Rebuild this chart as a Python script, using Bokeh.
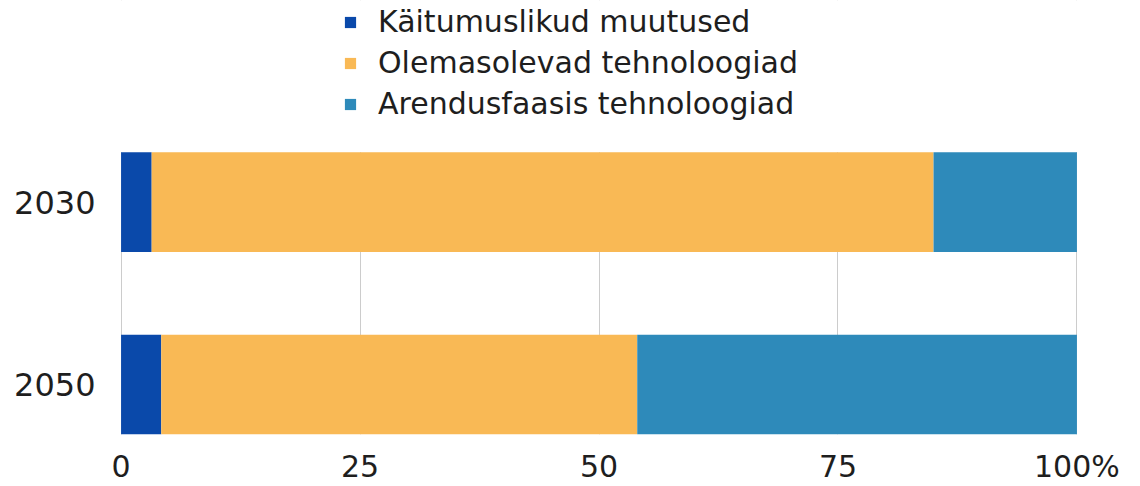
from bokeh.plotting import figure
from bokeh.models import ColumnDataSource, Legend, LegendItem, FixedTicker, Range1d, BoxAnnotation
from bokeh.embed import file_html
from bokeh.resources import INLINE

years = ["2050", "2030"]
series = ["Käitumuslikud muutused", "Olemasolevad tehnoloogiad", "Arendusfaasis tehnoloogiad"]
kaitumuslikud = [4.2, 3.2]
olemasolevad = [49.8, 81.8]
arendusfaasis = [46.0, 15.0]
colors = ["#0a49aa", "#f9b955", "#2e8aba"]
x_ticks = [0, 25, 50, 75, 100]
x_tick_labels = ["0", "25", "50", "75", "100%"]

FONT = "DejaVu Sans"
BAR_H = 0.546
Y_LO = -0.273
Y_TOP_BARS = 1.273
Y_HI = 2.104

ypos = list(range(len(years)))
source = ColumnDataSource(dict(y=ypos, a=kaitumuslikud, b=olemasolevad, c=arendusfaasis))

p = figure(width=1136, height=486, output_backend="svg", toolbar_location=None,
           x_range=Range1d(-0.06, 100.06), y_range=Range1d(Y_LO, Y_HI),
           min_border_left=120, min_border_right=59, min_border_bottom=51, min_border_top=0)
p.outline_line_color = None

rs = p.hbar_stack(["a", "b", "c"], y="y", height=BAR_H, color=colors, source=source, line_width=0)

p.xaxis.ticker = FixedTicker(ticks=x_ticks)
p.xaxis.major_label_overrides = {t: l for t, l in zip(x_ticks, x_tick_labels)}
p.yaxis.ticker = FixedTicker(ticks=ypos)
p.yaxis.major_label_overrides = {i: y for i, y in zip(ypos, years)}
for ax in (p.xaxis, p.yaxis):
    ax.axis_line_color = None
    ax.major_tick_line_color = None
    ax.minor_tick_line_color = None
    ax.major_label_text_font = FONT
    ax.major_label_text_color = "#1e1e1e"
p.xaxis.major_label_text_font_size = "30px"
p.yaxis.major_label_text_font_size = "32px"
p.xaxis.major_label_standoff = 8
p.yaxis.major_label_standoff = 19

p.xgrid.ticker = FixedTicker(ticks=x_ticks)
p.xgrid.grid_line_color = "#cccccc"
p.xgrid.grid_line_width = 1
p.ygrid.grid_line_color = None

# blank out grid above the bars (legend area)
p.add_layout(BoxAnnotation(bottom=Y_TOP_BARS, fill_color="white", fill_alpha=1,
                           line_color=None, level="underlay"))

items = [LegendItem(label=s, renderers=[r]) for s, r in zip(series, rs)]
legend = Legend(items=items, location=(223, 313), orientation="vertical",
                label_text_font=FONT, label_text_font_size="30px", label_text_color="#1e1e1e",
                glyph_width=14, glyph_height=14, label_height=30, spacing=6,
                label_standoff=21, padding=0, margin=0, border_line_color=None,
                background_fill_alpha=0)
p.add_layout(legend)

open("out.html", "w").write(file_html(p, INLINE))
